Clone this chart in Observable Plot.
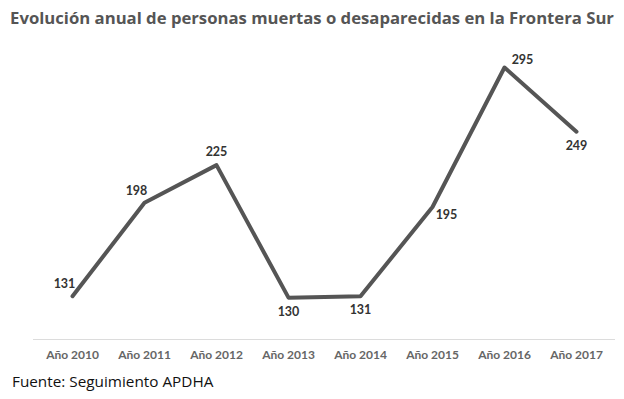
<!DOCTYPE html>
<html>
<head>
<meta charset="utf-8">
<script src="https://cdn.jsdelivr.net/npm/d3@7"></script>
<script src="https://cdn.jsdelivr.net/npm/@observablehq/plot@0.6"></script>
<style>
  body { margin: 0; background: #fff; width: 624px; height: 399px; overflow: hidden; }
  #title { height: 36px; line-height: 36px; text-align: center; font-family: "Open Sans", sans-serif; font-weight: 700; font-size: 16.7px; color: #555; }
  #caption { height: 30px; line-height: 30px; padding-left: 12px; font-family: "Open Sans", sans-serif; font-size: 15.3px; color: #111; }
</style>
</head>
<body>
<div id="title">Evolución anual de personas muertas o desaparecidas en la Frontera Sur</div>
<div id="chart"></div>
<div id="caption">Fuente: Seguimiento APDHA</div>
<script>
const years = ["Año 2010","Año 2011","Año 2012","Año 2013","Año 2014","Año 2015","Año 2016","Año 2017"];
const values = [131, 198, 225, 130, 131, 195, 295, 249];
const labelSide = ["upleft","upleft","up","down","down","right","upright","down"];

const data = years.map((y, i) => ({year: y, value: values[i], side: labelSide[i]}));
const off = {
  upleft: {dx: -8, dy: -12},
  up: {dx: 0, dy: -13},
  down: {dx: 0, dy: 14},
  right: {dx: 14, dy: 8},
  upright: {dx: 18, dy: -8}
};
const textMarks = Object.keys(off).map(k => Plot.text(data.filter(d => d.side === k), {
  x: "year", y: "value", text: d => String(d.value),
  dx: off[k].dx, dy: off[k].dy,
  fill: "#333", fontWeight: "bold", fontSize: 12.5, fontFamily: "Lato, sans-serif"
}));
const chart = Plot.plot({
  width: 624,
  height: 330,
  marginLeft: 33,
  marginRight: 9,
  marginTop: 31,
  marginBottom: 27,
  style: {fontFamily: "Lato, sans-serif", background: "#fff"},
  x: {type: "point", domain: years, padding: 0.5, label: null},
  y: {domain: [100, 295], axis: null},
  marks: [
    Plot.ruleY([100], {stroke: "#dcdcdc", strokeWidth: 1}),
    Plot.axisX({tickSize: 0, tickPadding: 11, fontSize: 12, fontWeight: "bold", fill: "#666", label: null}),
    Plot.line(data, {x: "year", y: "value", stroke: "#555", strokeWidth: 4}),
    ...textMarks
  ]
});
document.getElementById("chart").appendChild(chart);
</script>
</body>
</html>
